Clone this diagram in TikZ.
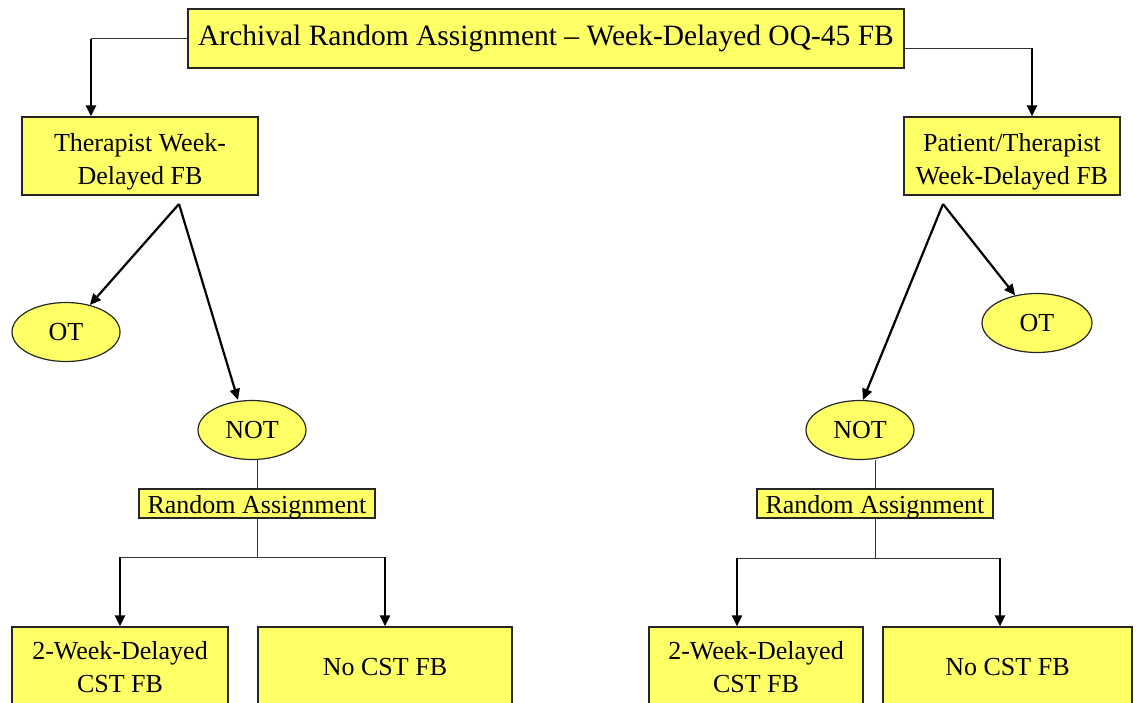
\documentclass[tikz,border=0pt]{standalone}
\usepackage{fontspec}
\setmainfont{Liberation Serif}
\usetikzlibrary{arrows.meta,shapes.geometric}
\definecolor{boxyellow}{RGB}{255,255,102}
\tikzset{
	box/.style={draw=black!85, fill=boxyellow, line width=1.2pt, align=center, inner sep=0pt,
		font=\fontsize{26}{33}\selectfont},
	oval/.style={ellipse, draw=black!85, fill=boxyellow, line width=1.2pt, inner sep=0pt,
		minimum width=108pt, minimum height=59pt, font=\fontsize{26}{30}\selectfont},
	arr/.style={line width=2.2pt, -{Triangle[length=11pt,width=10pt]}},
	link/.style={line width=1pt, draw=black!80}
}

\begin{document}
\begin{tikzpicture}[x=1pt,y=1pt,yscale=-1,xscale=1]
\useasboundingbox (0,0) rectangle (1146,702);
\clip (0,0) rectangle (1146,702);

\node[box, minimum width=716pt, minimum height=59pt, font=\fontsize{29.5}{34}\selectfont] (archive) at (546,38.5) {Archival Random Assignment – Week-Delayed OQ-45 FB};

\node[box, minimum width=236pt, minimum height=78pt] (therapist) at (140,156) {\rule{0pt}{29pt}Therapist Week-\\Delayed FB};
\node[box, minimum width=216pt, minimum height=78pt] (patient) at (1012,156) {\rule{0pt}{29pt}Patient/Therapist\\Week-Delayed FB};

\node[oval] (otL) at (66,332) {OT};
\node[oval] (notL) at (252,430) {NOT};
\node[oval, minimum width=110pt] (otR) at (1037,323) {OT};
\node[oval] (notR) at (860,430) {NOT};

\node[box, minimum width=236pt, minimum height=29pt, text height=21pt, text depth=2pt] (randL) at (257,503.5) {Random Assignment};
\node[box, minimum width=236pt, minimum height=29pt, text height=21pt, text depth=2pt] (randR) at (875,503.5) {Random Assignment};

\node[box, minimum width=216pt, minimum height=80pt] (delayL) at (120,667) {2-Week-Delayed\\CST FB};
\node[box, minimum width=254pt, minimum height=80pt] (nofbL) at (385,667) {No CST FB};
\node[box, minimum width=214pt, minimum height=80pt] (delayR) at (756,667) {2-Week-Delayed\\CST FB};
\node[box, minimum width=249pt, minimum height=80pt] (nofbR) at (1007.5,667) {No CST FB};

\coordinate (elbowL) at (91,38.5);
\coordinate (elbowR) at (1032,48);
\coordinate (apexL) at (179,204);
\coordinate (apexR) at (943,204);
\coordinate (branchL) at (257,557);
\coordinate (branchR) at (875,558);
\coordinate (dropR1) at ([xshift=-19pt]delayR.north);
\coordinate (dropR2) at ([xshift=-7.5pt]nofbR.north);

% top split
\draw[link] (archive.west) -- (elbowL);
\draw[arr] (elbowL) -- (elbowL |- therapist.north);
\draw[link] (elbowR -| archive.east) -- (elbowR);
\draw[arr] (elbowR) -- (elbowR |- patient.north);

% OT / NOT
\draw[arr] (apexL) -- (otL);
\draw[arr] (apexL) -- ([xshift=-14pt]notL.north);
\draw[arr] (apexR) -- (otR);
\draw[arr] (apexR) -- ([xshift=3pt]notR.north);

% left random assignment
\draw[link] (randL.north |- notL.south) -- (randL.north);
\draw[link] (randL.south) -- (branchL);
\draw[link] (branchL -| delayL.north) -- (branchL -| nofbL.north);
\draw[arr] (branchL -| delayL.north) -- (delayL.north);
\draw[arr] (branchL -| nofbL.north) -- (nofbL.north);

% right random assignment
\draw[link] (randR.north |- notR.south) -- (randR.north);
\draw[link] (randR.south) -- (branchR);
\draw[link] (branchR -| dropR1) -- (branchR -| dropR2);
\draw[arr] (branchR -| dropR1) -- (dropR1);
\draw[arr] (branchR -| dropR2) -- (dropR2);

\end{tikzpicture}
\end{document}
